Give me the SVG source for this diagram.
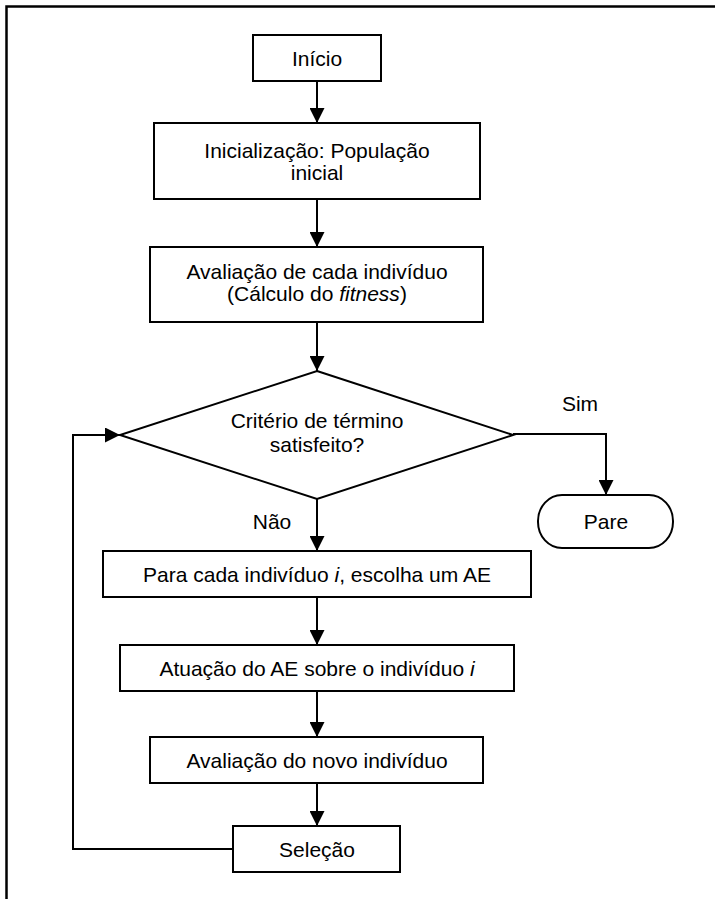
<svg xmlns="http://www.w3.org/2000/svg" width="715" height="899" viewBox="0 0 715 899">
<style>
.box{fill:#fff;stroke:#000;stroke-width:2}
.t{font-family:"Liberation Sans",Arial,sans-serif;font-size:21px;fill:#000;text-anchor:middle}
.c{fill:none;stroke:#000;stroke-width:2}
</style>
<defs>
<marker id="ah" markerWidth="15" markerHeight="15" refX="15" refY="7.5" orient="auto" markerUnits="userSpaceOnUse">
<path d="M0,0 L15,7.5 L0,15 z" fill="#000"/>
</marker>
</defs>
<rect x="0" y="0" width="715" height="899" fill="#fff"/>
<path d="M6.5,899 V6.5 H715" fill="none" stroke="#000" stroke-width="2.5"/>
<g id="connectors">
<path class="c" d="M317,81 V123" marker-end="url(#ah)"/>
<path class="c" d="M317,199 V247" marker-end="url(#ah)"/>
<path class="c" d="M317,322 V371" marker-end="url(#ah)"/>
<path class="c" d="M513,434 H606 V495" marker-end="url(#ah)"/>
<path class="c" d="M317,499 V551" marker-end="url(#ah)"/>
<path class="c" d="M317,597 V645" marker-end="url(#ah)"/>
<path class="c" d="M317,691 V737" marker-end="url(#ah)"/>
<path class="c" d="M317,783 V826" marker-end="url(#ah)"/>
<path class="c" d="M233,849 H73 V435 H120" marker-end="url(#ah)"/>
<text class="t" x="580" y="411">Sim</text>
<text class="t" x="272" y="529">Não</text>
</g>
<g id="inicio">
<rect class="box" x="253" y="35" width="128" height="46"/>
<text class="t" x="317" y="66">Início</text>
</g>
<g id="inicializacao">
<rect class="box" x="154" y="123" width="326" height="76"/>
<text class="t" x="317" y="158">Inicialização: População</text>
<text class="t" x="317" y="180">inicial</text>
</g>
<g id="avaliacao">
<rect class="box" x="150" y="247" width="333" height="75"/>
<text class="t" x="317" y="279">Avaliação de cada indivíduo</text>
<text class="t" x="317" y="301">(Cálculo do <tspan font-style="italic">fitness</tspan>)</text>
</g>
<g id="criterio">
<path class="box" d="M317,371 L513,435 L317,499 L120,435 Z"/>
<text class="t" x="317" y="428">Critério de término</text>
<text class="t" x="317" y="452">satisfeito?</text>
</g>
<g id="pare">
<rect class="box" x="538" y="495" width="135" height="53" rx="24" ry="26"/>
<text class="t" x="606" y="529">Pare</text>
</g>
<g id="para-cada">
<rect class="box" x="103" y="551" width="428" height="46"/>
<text class="t" x="317" y="582">Para cada indivíduo <tspan font-style="italic">i</tspan>, escolha um AE</text>
</g>
<g id="atuacao">
<rect class="box" x="120" y="645" width="394" height="46"/>
<text class="t" x="317" y="676">Atuação do AE sobre o indivíduo <tspan font-style="italic">i</tspan></text>
</g>
<g id="avaliacao-novo">
<rect class="box" x="150" y="737" width="333" height="46"/>
<text class="t" x="317" y="768">Avaliação do novo indivíduo</text>
</g>
<g id="selecao">
<rect class="box" x="233" y="826" width="167" height="46"/>
<text class="t" x="317" y="857">Seleção</text>
</g>
</svg>
